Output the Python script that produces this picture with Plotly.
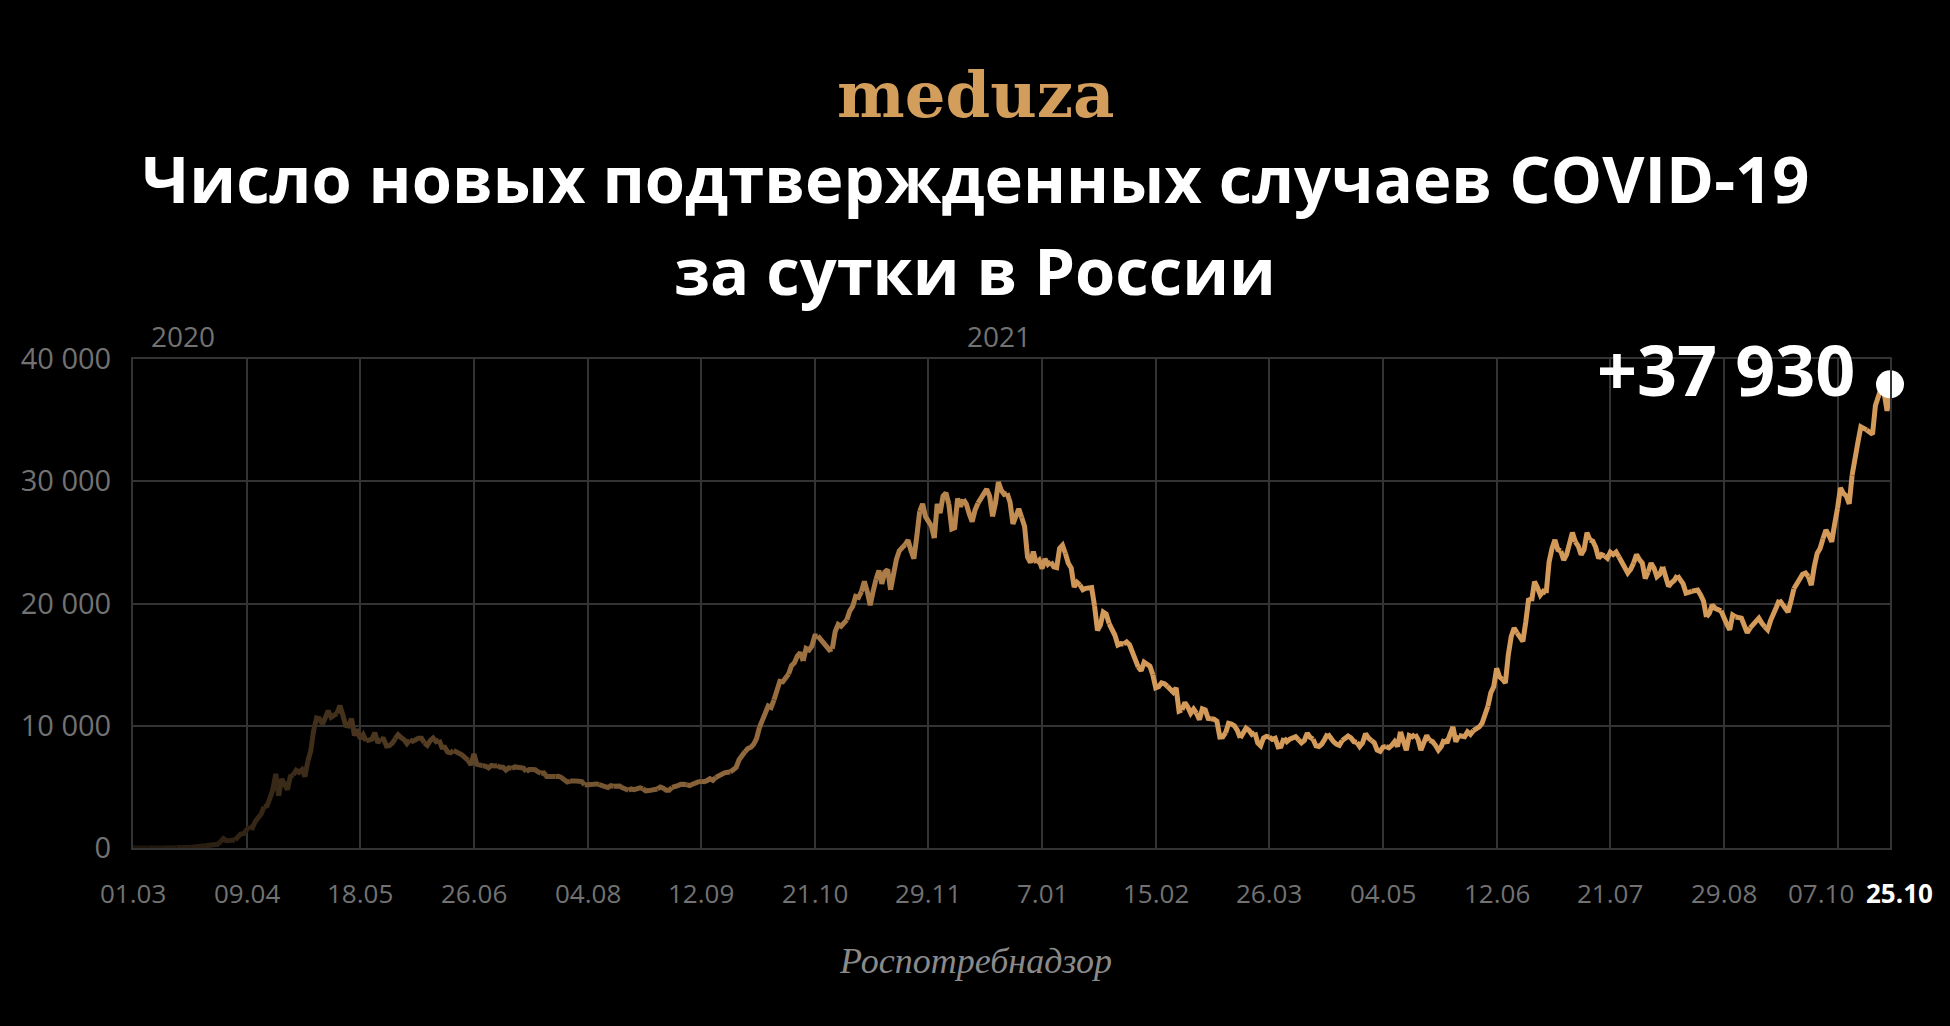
import plotly.graph_objects as go
import pandas as pd

# Daily new confirmed COVID-19 cases in Russia
cases_2020_03 = [0, 1, 0, 0, 1, 6, 3, 2, 0, 3, 8, 6, 17, 14, 4, 30, 21, 33, 52, 54,
                 53, 61, 71, 57, 163, 182, 196, 228, 270, 302, 501]
cases_2020_04 = [771, 601, 601, 582, 658, 954, 1154, 1175, 1459, 1786, 1667, 2186, 2558, 2774, 3388,
                 3448, 4070, 4785, 6060, 4268, 5642, 5236, 4774, 5849, 5966, 6361, 6198, 6411, 5841, 7099]
cases_2020_05 = [7933, 9623, 10633, 10581, 10102, 10559, 11231, 10699, 10817, 11012, 11656, 10899, 10028,
                 9974, 10598, 9200, 9709, 8926, 9263, 8764, 8849, 8894, 9434, 8599, 8946, 8915, 8338,
                 8371, 8572, 8952, 9268]
cases_2020_06 = [9035, 8863, 8536, 8831, 8726, 8855, 8984, 8985, 8595, 8404, 8779, 8987, 8706, 8835, 8246,
                 8248, 7843, 7790, 7972, 7889, 7728, 7600, 7425, 7176, 6800, 7700, 6852, 6791, 6719, 6693]
cases_2020_07 = [6556, 6760, 6718, 6736, 6611, 6611, 6368, 6562, 6509, 6635, 6611, 6615, 6537, 6248, 6422,
                 6428, 6406, 6234, 6109, 6139, 5842, 5862, 5811, 5848, 5871, 5765, 5635, 5395, 5475, 5509, 5482]
cases_2020_08 = [5462, 5427, 5159, 5204, 5267, 5212, 5241, 5189, 5118, 5102, 4945, 5102, 5057, 5065, 5061,
                 4919, 4839, 4718, 4828, 4767, 4870, 4921, 4852, 4676, 4696, 4744, 4711, 4829, 4980, 4897, 4729]
cases_2020_09 = [4729, 4952, 4995, 5110, 5205, 5195, 5185, 5099, 5218, 5363, 5406, 5449, 5421, 5509, 5670,
                 5529, 5762, 5905, 6065, 6148, 6196, 6215, 6431, 6595, 7212, 7523, 7867, 8135, 8232, 8481]
cases_2020_10 = [8945, 9859, 10499, 11115, 11615, 11493, 12126, 12846, 13634, 13592, 13868, 14231, 14922,
                 15150, 15700, 15982, 15300, 16319, 16200, 16521, 17340, 17347, 17089, 16700, 16550, 16202,
                 16300, 17717, 18283, 18140, 18400]
cases_2020_11 = [18665, 19404, 19768, 20582, 20498, 20977, 21798, 20977, 19851, 20977, 21983, 22702, 21608,
                 22572, 22778, 21120, 22410, 23610, 24318, 24581, 24822, 25173, 24326, 23675, 25487, 27543,
                 28145, 27100, 26683, 26338]
cases_2020_12 = [25345, 28145, 27403, 28782, 29039, 28137, 26097, 26190, 28585, 27927, 28516, 28137, 27328,
                 26689, 27655, 28209, 28552, 28948, 29350, 28776, 27120, 28214, 29935, 29258, 28928, 29018,
                 28284, 26513, 27039, 27747, 27029]
cases_2021_01 = [26301, 23800, 23351, 24246, 23309, 23541, 22851, 23652, 23200, 23407, 23000, 22934, 24500,
                 24763, 24092, 23300, 22900, 21350, 21734, 21513, 21127, 21241, 21262, 21300, 19800, 17800,
                 18241, 19300, 19138, 18359, 17900]
cases_2021_02 = [17400, 16600, 16714, 16688, 16850, 16627, 15916, 15400, 14800, 14494, 15200, 15010, 14870,
                 14185, 13100, 13200, 13500, 13433, 13233, 12953, 12742, 13100, 11200, 11300, 11900, 11534,
                 11022, 11359]
cases_2021_03 = [11024, 10500, 11385, 11300, 10595, 10565, 10535, 10366, 9079, 9100, 9437, 10200, 10144,
                 10000, 9627, 9000, 9400, 9800, 9632, 9299, 9445, 8600, 8369, 9000, 9128, 9073, 8885, 8979,
                 8277, 8320, 9000]
cases_2021_04 = [8700, 8900, 9000, 9100, 8850, 8600, 8800, 9400, 9050, 8900, 8350, 8300, 8500, 8900, 9350,
                 9000, 8700, 8500, 8400, 8800, 9000, 9150, 9000, 8700, 8650, 8300, 8600, 9350, 9000, 8800]
cases_2021_05 = [8600, 8000, 7900, 8250, 8300, 8200, 8400, 8700, 8300, 9500, 8800, 8000, 9200, 9100, 9300,
                 8900, 8000, 8600, 9200, 8800, 8700, 8400, 8000, 8300, 8900, 8600, 9300, 9900, 8700, 9200, 9100]
cases_2021_06 = [9100, 9500, 9300, 9600, 9700, 9900, 10200, 11000, 11600, 12700, 13200, 14700, 14000, 13800,
                 13500, 15800, 17300, 18000, 17600, 17200, 16900, 18500, 20400, 20200, 21800, 21300, 20700,
                 21000, 20850, 23400]
cases_2021_07 = [24500, 25200, 24400, 24300, 23550, 24000, 24900, 25800, 25050, 24700, 24000, 24400, 25800,
                 25200, 25100, 24600, 23700, 24000, 23900, 23700, 24200, 24000, 24200, 23800, 23300, 23000,
                 22500, 22800, 23300, 24000, 23600]
cases_2021_08 = [23300, 22050, 22600, 23300, 22900, 22200, 22400, 23000, 22100, 21400, 21700, 21900, 22300,
                 21900, 21600, 20850, 20900, 21000, 21100, 21100, 20700, 20200, 18900, 19200, 19900, 19600,
                 19500, 19400, 18700, 18300, 17850]
cases_2021_09 = [19050, 18900, 18900, 18800, 18200, 17600, 18000, 18300, 18500, 18800, 18400, 18100, 17850,
                 18600, 19300, 19700, 20300, 20000, 19600, 19300, 20200, 21200, 21650, 21900, 22400, 22500,
                 22200, 21500, 23000, 24100]
cases_2021_10 = [24500, 25300, 26000, 25600, 25050, 26500, 27800, 29450, 29000, 28800, 28150, 30500, 32100,
                 33200, 34450, 34300, 34200, 34000, 33850, 36200, 36800, 37650, 37200, 35750, 37930]

month_starts = ["2020-03-01", "2020-04-01", "2020-05-01", "2020-06-01", "2020-07-01", "2020-08-01",
                "2020-09-01", "2020-10-01", "2020-11-01", "2020-12-01", "2021-01-01", "2021-02-01",
                "2021-03-01", "2021-04-01", "2021-05-01", "2021-06-01", "2021-07-01", "2021-08-01",
                "2021-09-01", "2021-10-01"]
month_values = [cases_2020_03, cases_2020_04, cases_2020_05, cases_2020_06, cases_2020_07, cases_2020_08,
                cases_2020_09, cases_2020_10, cases_2020_11, cases_2020_12, cases_2021_01, cases_2021_02,
                cases_2021_03, cases_2021_04, cases_2021_05, cases_2021_06, cases_2021_07, cases_2021_08,
                cases_2021_09, cases_2021_10]

tick_dates = ["2020-03-01", "2020-04-09", "2020-05-18", "2020-06-26", "2020-08-04", "2020-09-12",
              "2020-10-21", "2020-11-29", "2021-01-07", "2021-02-15", "2021-03-26", "2021-05-04",
              "2021-06-12", "2021-07-21", "2021-08-29", "2021-10-07", "2021-10-25"]
tick_labels = ["01.03", "09.04", "18.05", "26.06", "04.08", "12.09", "21.10", "29.11", "7.01", "15.02",
               "26.03", "04.05", "12.06", "21.07", "29.08", "07.10", "25.10"]
y_tick_vals = [0, 10000, 20000, 30000, 40000]
y_tick_labels = ["0", "10 000", "20 000", "30 000", "40 000"]
year_labels = ["2020", "2021"]
last_label = "+37 930"

dates, values = [], []
for start, vals in zip(month_starts, month_values):
    dates += list(pd.date_range(start, periods=len(vals), freq="D"))
    values += vals

ORANGE = (212, 154, 90)
GRID = "#333333"
LABEL = "#727272"
FONT = "Open Sans"

fig = go.Figure()
n = len(values)
seg = 5
for i in range(0, n - 1, seg):
    j = min(i + seg, n - 1)
    mid = (i + j) / 2
    a = min(1.0, 0.14 + mid * 0.0026)
    col = "rgb({},{},{})".format(int(ORANGE[0] * a), int(ORANGE[1] * a), int(ORANGE[2] * a))
    fig.add_trace(go.Scatter(x=dates[i:j + 1], y=values[i:j + 1], mode="lines",
                             line=dict(color=col, width=5), hoverinfo="skip", showlegend=False))

fig.add_trace(go.Scatter(x=[dates[-1]], y=[values[-1]], mode="markers",
                         marker=dict(color="white", size=28, line=dict(width=0)), cliponaxis=False,
                         hoverinfo="skip", showlegend=False))

L, R, T, B = 133, 60, 359, 178
W, H = 1950, 1026
pw, ph = W - L - R, H - T - B


def px(x):
    return (x - L) / pw


def py(y):
    return (H - B - y) / ph


annotations = [
    dict(text="<b>meduza</b>", x=px(976), y=py(94), font=dict(family="DejaVu Serif", size=64, color="#D39E5C")),
    dict(text="<b>Число новых подтвержденных случаев COVID-19</b>", x=px(975), y=py(178),
         font=dict(family=FONT, size=65, color="white")),
    dict(text="<b>за сутки в России</b>", x=px(975), y=py(270), font=dict(family=FONT, size=65, color="white")),
    dict(text=year_labels[0], x=px(183), y=py(336), font=dict(family=FONT, size=28, color=LABEL)),
    dict(text=year_labels[1], x=px(999), y=py(336), font=dict(family=FONT, size=28, color=LABEL)),
    dict(text="<b>" + last_label + "</b>", x=px(1857), y=py(369), xanchor="right",
         font=dict(family=FONT, size=70, color="white")),
    dict(text="<i>Роспотребнадзор</i>", x=px(975), y=py(961),
         font=dict(family="Liberation Serif", size=36, color="#8a8a8a")),
]
for an in annotations:
    an.setdefault("xanchor", "center")
    an.update(xref="paper", yref="paper", yanchor="middle", showarrow=False)

# x tick labels (the last two are nudged apart as in the original)
label_shift = {15: -17, 16: 9}
for k, (d, lab) in enumerate(zip(tick_dates, tick_labels)):
    is_last = k == len(tick_labels) - 1
    annotations.append(dict(
        text="<b>" + lab + "</b>" if is_last else lab,
        x=d, xref="x", y=py(893), yref="paper", xanchor="center", yanchor="middle",
        xshift=label_shift.get(k, 0), showarrow=False,
        font=dict(family=FONT, size=26, color="#ffffff" if is_last else LABEL)))

fig.update_layout(
    width=W, height=H,
    margin=dict(l=L, r=R, t=T, b=B),
    paper_bgcolor="black", plot_bgcolor="black",
    annotations=annotations,
    xaxis=dict(type="date", range=[dates[0], dates[-1]], tickvals=tick_dates, showticklabels=False,
               showgrid=True, gridcolor=GRID, gridwidth=2, showline=True, mirror=True,
               linecolor=GRID, linewidth=2, zeroline=False),
    yaxis=dict(range=[0, 40000], tickvals=y_tick_vals, ticktext=y_tick_labels,
               showgrid=True, gridcolor=GRID, gridwidth=2, showline=True, mirror=True,
               linecolor=GRID, linewidth=2, zeroline=False, ticks="outside", ticklen=14,
               tickcolor="rgba(0,0,0,0)", tickfont=dict(family=FONT, size=29, color=LABEL)),
)

fig.write_html("out.html", config={"displayModeBar": False},
               post_script="document.body.style.margin='0';document.body.style.background='black';")
